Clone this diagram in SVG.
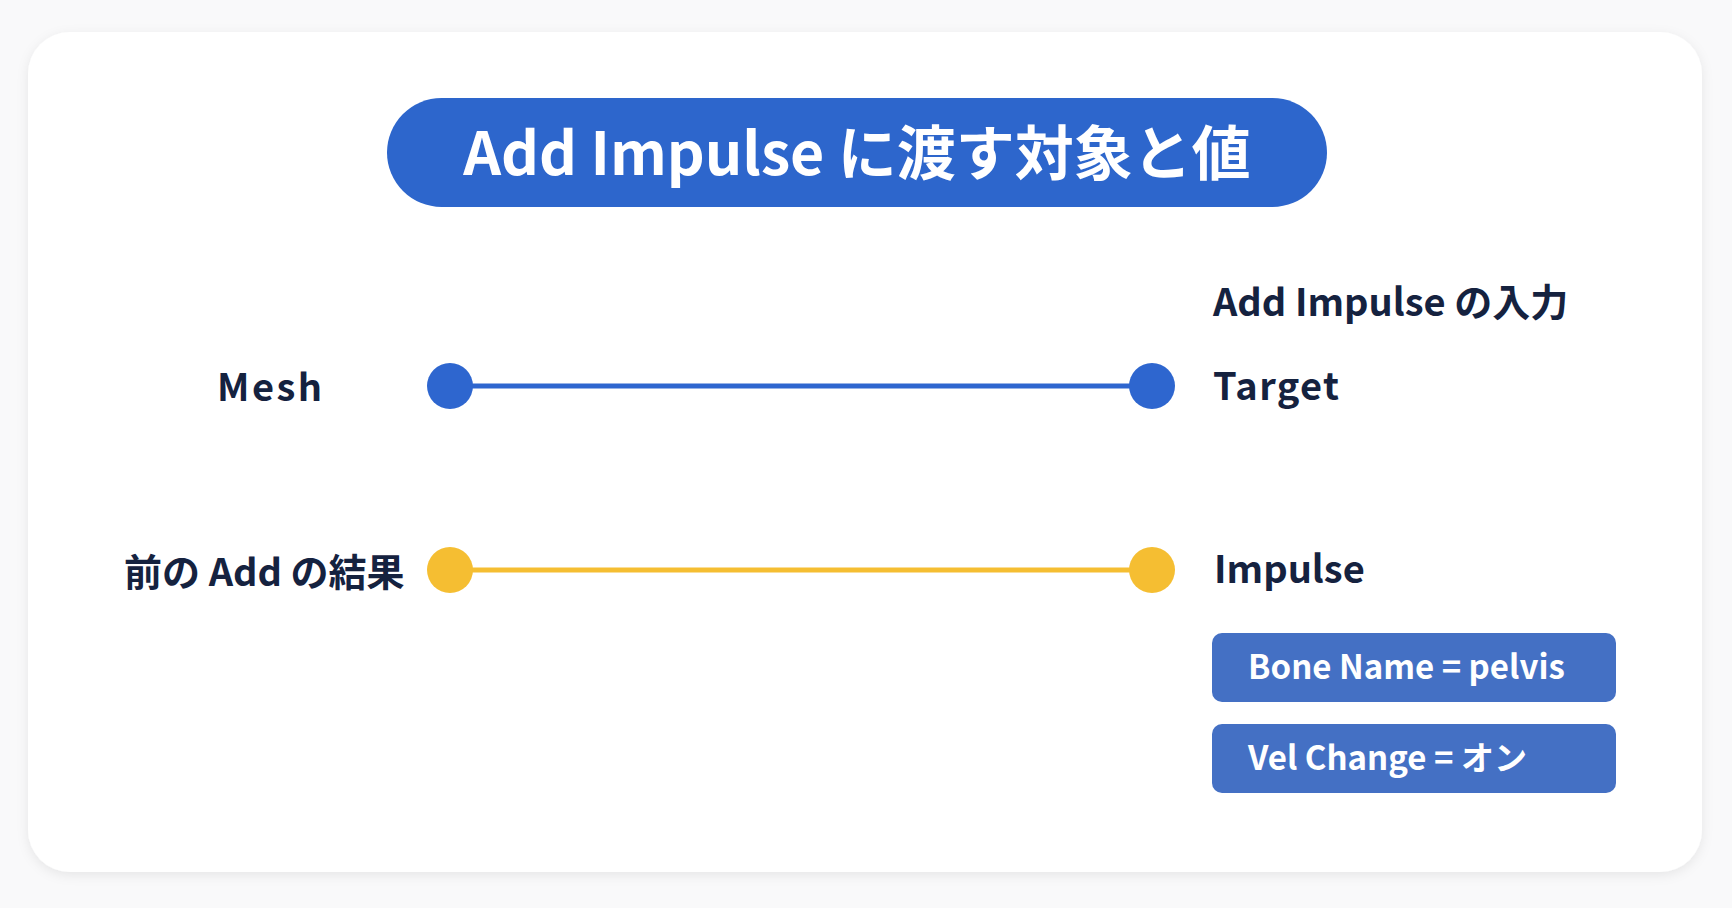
<svg xmlns="http://www.w3.org/2000/svg" width="1732" height="908" viewBox="0 0 1732 908">
<defs>
<filter id="shadow" x="-5%" y="-5%" width="110%" height="112%">
<feDropShadow dx="0" dy="3" stdDeviation="6" flood-color="#000000" flood-opacity="0.08"/>
</filter>
<style>
text{font-family:"Noto Sans CJK JP","Noto Sans",sans-serif;font-weight:700}
.lbl{fill:#15223F;font-size:38px}
.head{fill:#15223F;font-size:38px}
.box{fill:#4470C4}
.boxt{fill:#FFFFFF;font-size:33px}
.blue{stroke:#2E66CF;stroke-width:5;fill:none}
.yellow{stroke:#F5BE32;stroke-width:5;fill:none}
</style>
</defs>
<rect x="0" y="0" width="1732" height="908" fill="#F9F9FA"/>
<g id="card">
<rect x="28" y="32" width="1674" height="840" rx="42" fill="#FFFFFF" filter="url(#shadow)"/>
</g>
<g id="title">
<rect x="387" y="98" width="940" height="109" rx="54.5" fill="#2D66CC"/>
<text x="857" y="175" text-anchor="middle" font-size="59" fill="#FFFFFF">Add Impulse に渡す対象と値</text>
</g>
<g id="connectors">
<line class="blue" x1="450" y1="386" x2="1152" y2="386"/>
<line class="yellow" x1="450" y1="570" x2="1152" y2="570"/>
</g>
<g id="mesh">
<circle cx="450" cy="386" r="23" fill="#2E66CF"/>
<text class="lbl" x="217" y="401" letter-spacing="2.5">Mesh</text>
</g>
<g id="prev-add">
<circle cx="450" cy="570" r="23" fill="#F5BE32"/>
<text class="lbl" x="124" y="586" font-size="37">前の Add の結果</text>
</g>
<g id="inputs-heading">
<text class="head" x="1213" y="316">Add Impulse の入力</text>
</g>
<g id="target">
<circle cx="1152" cy="386" r="23" fill="#2E66CF"/>
<text class="lbl" x="1213" y="400" letter-spacing="1.4">Target</text>
</g>
<g id="impulse">
<circle cx="1152" cy="570" r="23" fill="#F5BE32"/>
<text class="lbl" x="1214" y="583">Impulse</text>
</g>
<g id="bone-name">
<rect class="box" x="1212" y="633" width="404" height="69" rx="10"/>
<text class="boxt" x="1248" y="679">Bone Name = pelvis</text>
</g>
<g id="vel-change">
<rect class="box" x="1212" y="724" width="404" height="69" rx="10"/>
<text class="boxt" x="1248" y="770">Vel Change = オン</text>
</g>
</svg>
